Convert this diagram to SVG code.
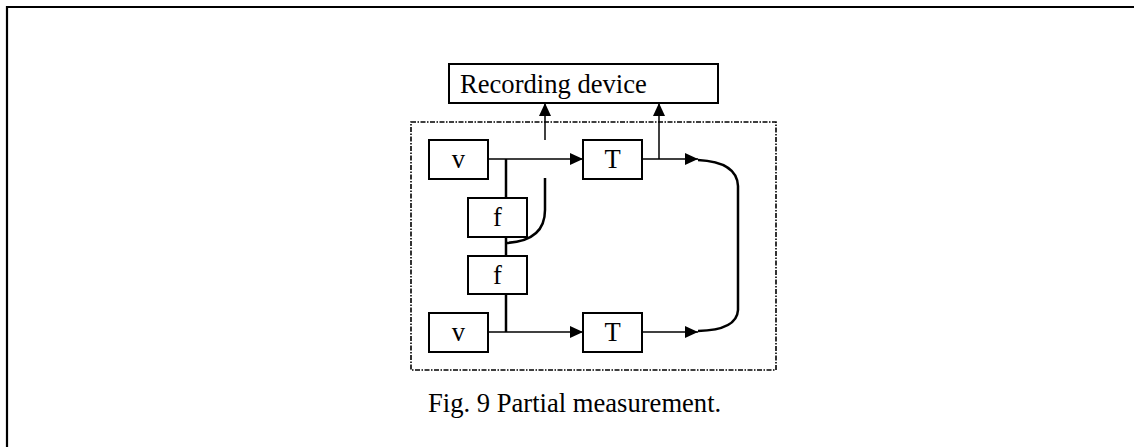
<svg xmlns="http://www.w3.org/2000/svg" width="1134" height="447" viewBox="0 0 1134 447">
  <style>
    .box { fill: #fff; stroke: #000; stroke-width: 2; }
    .lbl { font-family: "Liberation Serif", "Times New Roman", serif; font-size: 26.6px; fill: #000; }
    .thin { fill: none; stroke: #000; stroke-width: 1.5; }
    .thick { fill: none; stroke: #000; stroke-width: 2.5; }
  </style>
  <defs>
    <marker id="arr" markerWidth="14" markerHeight="12" refX="13" refY="6" orient="auto" markerUnits="userSpaceOnUse">
      <path d="M0,0 L13,6 L0,12 Z" fill="#000"/>
    </marker>
  </defs>
  <rect width="1134" height="447" fill="#fff"/>

  <!-- frame: top and left edges only -->
  <path d="M7,447 V7 H1134" fill="none" stroke="#000" stroke-width="2.2"/>

  <!-- dash-dot system boundary -->
  <rect x="411" y="122" width="365" height="248" fill="none" stroke="#000" stroke-width="1.6" stroke-dasharray="5,1.5,1.5,1.5"/>

  <g id="connectors">
    <!-- v to T, upper -->
    <line class="thin" x1="488" y1="159" x2="583" y2="159" marker-end="url(#arr)"/>
    <!-- v to T, lower -->
    <line class="thin" x1="488" y1="332" x2="583" y2="332" marker-end="url(#arr)"/>
    <!-- spine through f boxes -->
    <line class="thick" x1="506" y1="159" x2="506" y2="198"/>
    <line class="thick" x1="506" y1="237" x2="506" y2="256"/>
    <line class="thick" x1="506" y1="294" x2="506" y2="332"/>
    <!-- tap between f boxes, broken before the recorder -->
    <path class="thick" d="M506,243 Q545,241 545,210 V178"/>
    <line class="thin" x1="545" y1="140" x2="545" y2="103" marker-end="url(#arr)"/>
    <!-- T outputs -->
    <line class="thin" x1="642" y1="159" x2="698" y2="159" marker-end="url(#arr)"/>
    <line class="thin" x1="642" y1="332" x2="698" y2="332" marker-end="url(#arr)"/>
    <line class="thin" x1="659" y1="159" x2="659" y2="103" marker-end="url(#arr)"/>
    <!-- loop joining the two T outputs -->
    <path class="thick" d="M698,160 Q737,162 738,186 V310 Q737,330 698,331"/>
  </g>

  <g id="recorder">
    <rect class="box" x="449" y="64" width="269" height="39"/>
    <text class="lbl" x="460" y="93">Recording device</text>
  </g>
  <g id="v-top">
    <rect class="box" x="429" y="140" width="59" height="39"/>
    <text class="lbl" x="458.5" y="168" text-anchor="middle">v</text>
  </g>
  <g id="T-top">
    <rect class="box" x="583" y="140" width="59" height="39"/>
    <text class="lbl" x="612.5" y="168" text-anchor="middle">T</text>
  </g>
  <g id="f-upper">
    <rect class="box" x="468" y="198" width="59" height="39"/>
    <text class="lbl" x="497.5" y="226" text-anchor="middle">f</text>
  </g>
  <g id="f-lower">
    <rect class="box" x="468" y="256" width="59" height="38"/>
    <text class="lbl" x="497.5" y="284" text-anchor="middle">f</text>
  </g>
  <g id="v-bottom">
    <rect class="box" x="429" y="313" width="59" height="39"/>
    <text class="lbl" x="458.5" y="341" text-anchor="middle">v</text>
  </g>
  <g id="T-bottom">
    <rect class="box" x="583" y="313" width="59" height="39"/>
    <text class="lbl" x="612.5" y="341" text-anchor="middle">T</text>
  </g>

  <text class="lbl" x="428" y="412">Fig. 9 Partial measurement.</text>
</svg>
